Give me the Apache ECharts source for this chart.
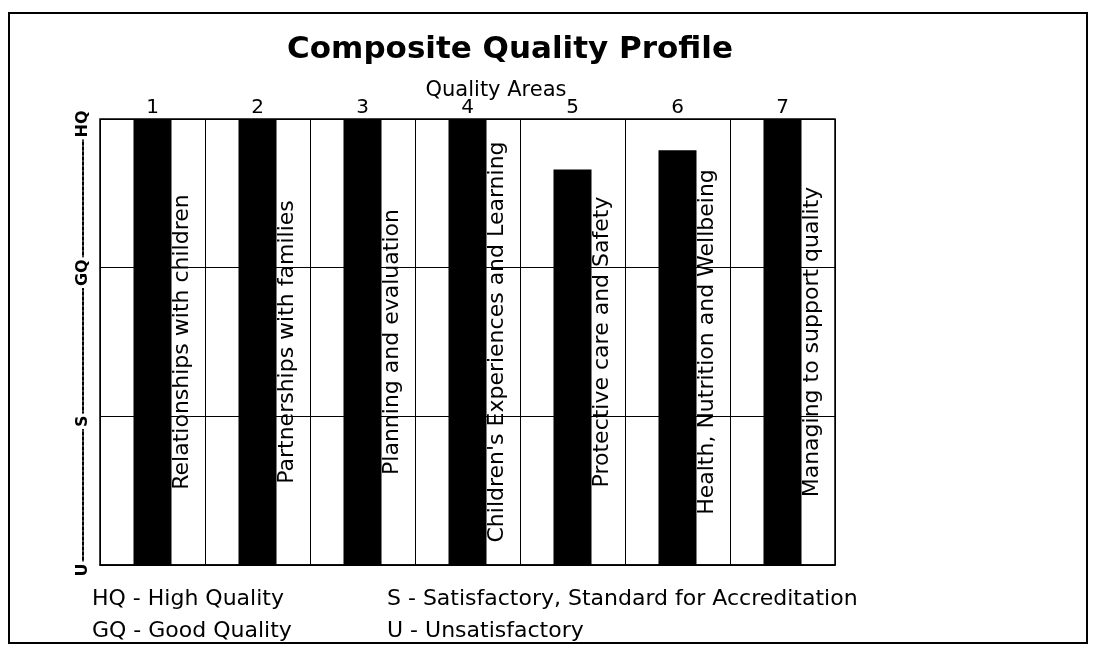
<!DOCTYPE html>
<html>
<head>
<meta charset="utf-8">
<script src="https://cdn.jsdelivr.net/npm/echarts@6/dist/echarts.min.js"></script>
<style>html,body{margin:0;padding:0;background:#fff;}#c{width:1096px;height:649px;}</style>
</head>
<body>
<div id="c"></div>
<script>
var categories = ['1', '2', '3', '4', '5', '6', '7'];
var areaNames = [
  'Relationships with children',
  'Partnerships with families',
  'Planning and evaluation',
  "Children's Experiences and Learning",
  'Protective care and Safety',
  'Health, Nutrition and Wellbeing',
  'Managing to support quality'
];
var ratings = [3, 3, 3, 3, 2.66, 2.79, 3];
var levelLabels = ['U', 'S', 'GQ', 'HQ'];
var levelMax = 3;
var legendLeft = ['HQ - High Quality', 'GQ - Good Quality'];
var legendRight = ['S - Satisfactory, Standard for Accreditation', 'U - Unsatisfactory'];

var font = 'DejaVu Sans';
var chart = echarts.init(document.getElementById('c'), null, {renderer: 'canvas'});
var option = {
  backgroundColor: '#fff',
  animation: false,
  textStyle: {fontFamily: font, color: '#000'},
  title: [
    {text: 'Composite Quality Profile', left: 510, top: 34, textAlign: 'center', padding: 0,
     textStyle: {fontFamily: font, fontSize: 31, fontWeight: 'bold', color: '#000'}},
    {text: 'Quality Areas', left: 496, top: 80, textAlign: 'center', padding: 0,
     textStyle: {fontFamily: font, fontSize: 21, fontWeight: 'normal', color: '#000'}}
  ],
  grid: {left: 100, right: 261, top: 119, bottom: 84, show: true, borderColor: '#000', borderWidth: 1.5, backgroundColor: 'transparent'},
  xAxis: {
    type: 'category', data: categories, position: 'top',
    axisLine: {show: true, lineStyle: {color: '#000', width: 1.5}},
    axisTick: {show: false},
    axisLabel: {fontSize: 20, color: '#000', margin: 1, fontFamily: font},
    splitLine: {show: true, interval: 0, lineStyle: {color: '#000', width: 1}}
  },
  yAxis: [
    {type: 'value', min: 0, max: levelMax, interval: 1,
     axisLine: {show: false}, axisTick: {show: false}, axisLabel: {show: false},
     splitLine: {show: true, lineStyle: {color: '#000', width: 1}}},
    {type: 'value', min: 0, max: levelMax, interval: 1, position: 'left', offset: 17,
     axisLine: {show: true, lineStyle: {color: '#000', width: 2, type: [3, 2]}},
     axisTick: {show: false},
     splitLine: {show: false},
     axisLabel: {
       rotate: 90, margin: 0, align: 'center', verticalAlign: 'middle',
       fontSize: 16, fontWeight: 'bold', color: '#000', fontFamily: font,
       formatter: function (v) { return '{t|' + levelLabels[Math.round(v)] + '}{g|}'; },
       rich: {
         t: {fontSize: 16, fontWeight: 'bold', color: '#000', fontFamily: font, backgroundColor: '#fff', padding: [0, 2, 0, 2]},
         g: {width: 10}
       }
     }}
  ],
  series: [
    {type: 'bar', data: ratings, barWidth: 38, itemStyle: {color: '#000'}, silent: true, z: 2},
    {type: 'bar', data: categories.map(function () { return levelMax; }), barWidth: 38, barGap: '-100%',
     itemStyle: {color: 'rgba(0,0,0,0)'}, silent: true, z: 3,
     label: {
       show: true, position: 'right', distance: 11, rotate: 90,
       align: 'center', verticalAlign: 'middle',
       fontSize: 22, color: '#000', fontFamily: font,
       formatter: function (p) { return areaNames[p.dataIndex]; }
     }}
  ],
  graphic: [
    {type: 'rect', shape: {x: 9, y: 13, width: 1078, height: 630}, style: {fill: 'none', stroke: '#000', lineWidth: 2}, silent: true},
    {type: 'text', left: 92, top: 588, style: {text: legendLeft[0], fontSize: 22, fontFamily: font, fill: '#000'}},
    {type: 'text', left: 92, top: 620, style: {text: legendLeft[1], fontSize: 22, fontFamily: font, fill: '#000'}},
    {type: 'text', left: 387, top: 588, style: {text: legendRight[0], fontSize: 22, fontFamily: font, fill: '#000'}},
    {type: 'text', left: 387, top: 620, style: {text: legendRight[1], fontSize: 22, fontFamily: font, fill: '#000'}}
  ]
};
chart.setOption(option);
</script>
</body>
</html>
